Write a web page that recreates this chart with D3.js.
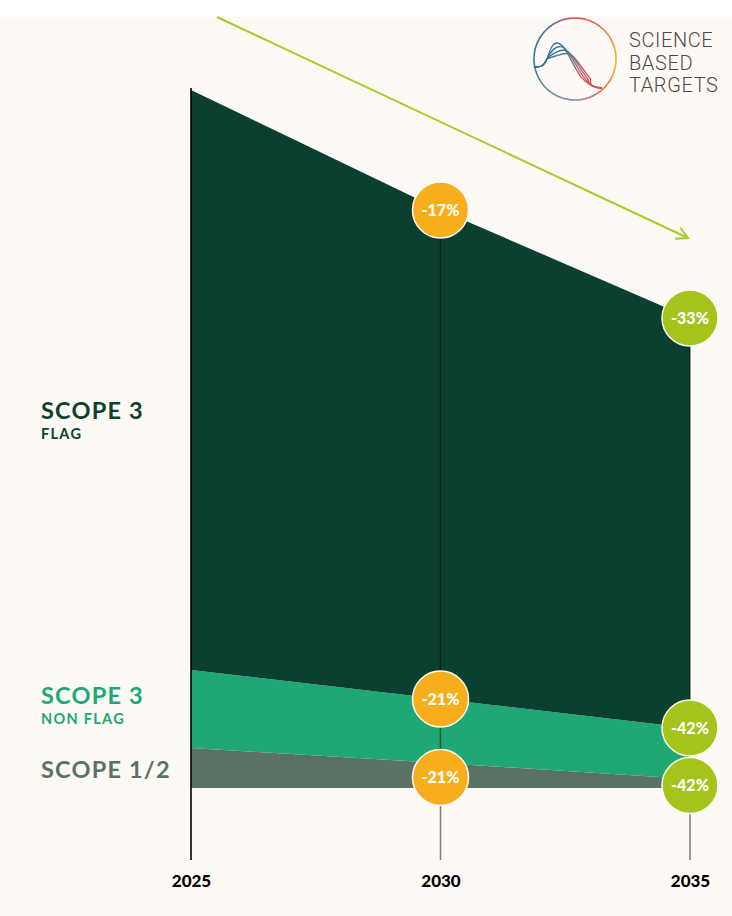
<!DOCTYPE html>
<html><head><meta charset="utf-8">
<script src="https://cdn.jsdelivr.net/npm/d3@7"></script>
<style>
html,body{margin:0;padding:0;background:#fff;}
svg{display:block;}
</style></head>
<body>
<svg id="chart" width="732" height="916"></svg>
<script>
// ---- data ----
const years = [2025, 2030, 2035];
const scope12 = [40, 25, 9];
const scope3NonFlag = [78, 64, 51];
const scope3Flag = [580, 489, 410];
const flagBadges = ["", "-17%", "-33%"];
const nonFlagBadges = ["", "-21%", "-42%"];
const scope12Badges = ["", "-21%", "-42%"];
const yearLabels = ["2025", "2030", "2035"];
const seriesNames = ["scope12", "nonflag", "flag"];
const logoWords = ["SCIENCE", "BASED", "TARGETS"];

const W = 732, H = 916;
const svg = d3.select("#chart");

const colors = {flag: "#0b4031", nonflag: "#1fa774", scope12: "#5a7264"};
const badgeColors = ["#f6ae1c", "#f6ae1c", "#a3c51b"];

// background
svg.append("rect").attr("width", W).attr("height", H).attr("fill", "#fff");
svg.append("rect").attr("y", 17).attr("width", W).attr("height", H - 17).attr("fill", "#fdfaf5");

const x = d3.scaleLinear().domain([2025, 2035]).range([191, 690]);
const rows = years.map((yr, i) => ({year: yr, scope12: scope12[i], nonflag: scope3NonFlag[i], flag: scope3Flag[i]}));
const stack = d3.stack().keys(seriesNames)(rows);
const total = d3.max(rows, d => d.scope12 + d.nonflag + d.flag);
const y = d3.scaleLinear().domain([0, total]).range([788, 90]);

const area = d3.area().x(d => x(d.data.year)).y0(d => y(d[0])).y1(d => y(d[1]));

svg.append("g").selectAll("path").data(stack).join("path")
  .attr("d", area).attr("fill", d => colors[d.key]);

// vertical guide lines
const topOf = stack[2];
svg.append("line").attr("x1", x(2025)).attr("x2", x(2025))
  .attr("y1", y(topOf[0][1]) - 2).attr("y2", 860).attr("stroke", "#000").attr("stroke-width", 1.6);
[1, 2].forEach(i => {
  svg.append("line").attr("x1", x(years[i])).attr("x2", x(years[i]))
    .attr("y1", y(topOf[i][1])).attr("y2", 860)
    .attr("stroke", "#000").attr("stroke-opacity", 0.5).attr("stroke-width", 1.5);
});

// axis labels
const axis = d3.axisBottom(x).tickValues(years).tickFormat((d, i) => yearLabels[i]).tickSize(0).tickPadding(0);
const ag = svg.append("g").attr("transform", "translate(0,887)").call(axis);
ag.select(".domain").remove();
ag.selectAll("text").attr("font-family", "Lato, sans-serif").attr("font-weight", 900)
  .attr("font-size", 17).attr("fill", "#000").attr("dy", "0");

// arrow
const ax0 = x(2025) + 26, ay0 = 17, ax1 = x(2035) - 2, ay1 = 238;
svg.append("line").attr("x1", ax0).attr("y1", ay0).attr("x2", ax1).attr("y2", ay1)
  .attr("stroke", "#a9cc2c").attr("stroke-width", 2);
const ang = Math.atan2(ay1 - ay0, ax1 - ax0);
const hl = 13, ha = 0.5;
svg.append("path")
  .attr("d", `M${ax1 - hl * Math.cos(ang - ha)},${ay1 - hl * Math.sin(ang - ha)} L${ax1},${ay1} L${ax1 - hl * Math.cos(ang + ha)},${ay1 - hl * Math.sin(ang + ha)}`)
  .attr("fill", "none").attr("stroke", "#a9cc2c").attr("stroke-width", 2);

// badges
const badges = [];
years.forEach((yr, i) => {
  if (flagBadges[i]) badges.push({x: x(yr), y: y(stack[2][i][1]), t: flagBadges[i], c: badgeColors[i]});
  if (nonFlagBadges[i]) badges.push({x: x(yr), y: y(stack[1][i][1]), t: nonFlagBadges[i], c: badgeColors[i]});
  if (scope12Badges[i]) badges.push({x: x(yr), y: y((stack[0][i][0] + stack[0][i][1]) / 2) + 2, t: scope12Badges[i], c: badgeColors[i]});
});
const bg = svg.append("g").selectAll("g").data(badges).join("g")
  .attr("transform", d => `translate(${d.x},${d.y})`);
bg.append("circle").attr("r", 28).attr("fill", d => d.c).attr("stroke", "#fdfaf5").attr("stroke-width", 1.5);
bg.append("text").text(d => d.t).attr("text-anchor", "middle").attr("dy", "0.36em")
  .attr("font-family", "Lato, sans-serif").attr("font-weight", 900).attr("font-size", 16)
  .attr("fill", "#fff");

// left labels
const labels = [
  {t: "SCOPE 3", s: "FLAG", c: colors.flag, y: 419},
  {t: "SCOPE 3", s: "NON FLAG", c: colors.nonflag, y: 704},
  {t: "SCOPE 1/2", s: "", c: colors.scope12, y: 778}
];
labels.forEach(l => {
  svg.append("text").attr("x", 41).attr("y", l.y).text(l.t)
    .attr("font-family", "Lato, sans-serif").attr("font-weight", 700).attr("font-size", 23.5)
    .attr("letter-spacing", 1.2).attr("fill", l.c);
  if (l.s) svg.append("text").attr("x", 41).attr("y", l.y + 20).text(l.s)
    .attr("font-family", "Lato, sans-serif").attr("font-weight", 700).attr("font-size", 14.5)
    .attr("letter-spacing", 1.3).attr("fill", l.c);
});

// logo
const logo = svg.append("g").attr("transform", "translate(575,59)");
const R = 41;
const stops = [[0, "#e2505a"], [60, "#f08c45"], [95, "#f2b832"], [140, "#e26a5e"], [180, "#9090ab"], [230, "#5f8aa3"], [270, "#2f7f98"], [315, "#3d6f9c"], [360, "#e2505a"]];
const colorAt = a => {
  for (let k = 0; k < stops.length - 1; k++) {
    if (a >= stops[k][0] && a <= stops[k + 1][0]) {
      const t = (a - stops[k][0]) / (stops[k + 1][0] - stops[k][0]);
      return d3.interpolateRgb(stops[k][1], stops[k + 1][1])(t);
    }
  }
  return stops[0][1];
};
const arc = d3.arc().innerRadius(R - 0.8).outerRadius(R + 0.8);
for (let a = 0; a < 360; a += 4) {
  logo.append("path").attr("d", arc({startAngle: a * Math.PI / 180, endAngle: (a + 4.5) * Math.PI / 180}))
    .attr("fill", colorAt(a + 2));
}
const defs = svg.append("defs");
const lg = defs.append("linearGradient").attr("id", "bell").attr("x1", "0%").attr("x2", "100%").attr("y1", "0%").attr("y2", "0%");
lg.append("stop").attr("offset", "0%").attr("stop-color", "#2a6f8e");
lg.append("stop").attr("offset", "45%").attr("stop-color", "#3a7b99");
lg.append("stop").attr("offset", "75%").attr("stop-color", "#d9525a");
lg.append("stop").attr("offset", "100%").attr("stop-color", "#e5484a");
[0, 1, 2, 3].forEach(k => {
  const dx = k * 3.2, dy = k * 3.5;
  logo.append("path")
    .attr("d", `M-41,8 C-34,8 -32,8 -28,0 C-24,${-12 + dy} ${-22 + dx},${-16 + dy} ${-18 + dx},${-16 + dy} C${-10 + dx},${-16 + dy} ${-4 + dx},${4 + dy * 0.4} ${6 + dx},${18 + dy * 0.2} C14,27 20,29 ${27},${29}`)
    .attr("fill", "none").attr("stroke", "url(#bell)").attr("stroke-width", 1.3);
});
logoWords.forEach((w, i) => {
  svg.append("text").attr("x", 629).attr("y", 47 + i * 22.5).text(w)
    .attr("font-family", "Roboto, 'Liberation Sans', sans-serif").attr("font-weight", 300)
    .attr("font-size", 20).attr("letter-spacing", 0.6).attr("fill", "#4a4a4a");
});
</script>
</body></html>
